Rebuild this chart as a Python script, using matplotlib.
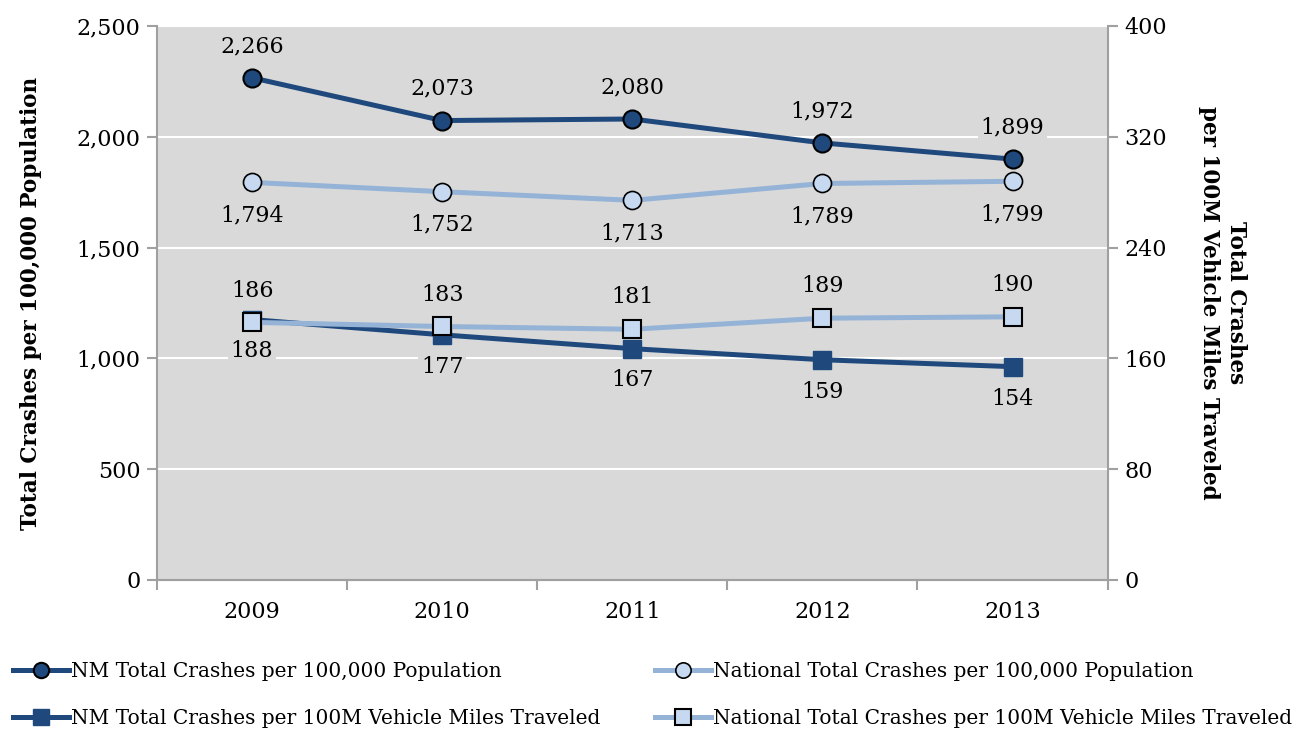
import numpy as np
import matplotlib.pyplot as plt

years = ['2009', '2010', '2011', '2012', '2013']
nm_pop = [2266, 2073, 2080, 1972, 1899]
nat_pop = [1794, 1752, 1713, 1789, 1799]
nm_vmt = [188, 177, 167, 159, 154]
nat_vmt = [186, 183, 181, 189, 190]

dark = '#1F497D'
light = '#95B3D7'
light_face = '#C6D9F1'
bg = '#D9D9D9'
spine = '#A0A0A0'

plt.rcParams['font.family'] = ['DejaVu Serif']

fig = plt.figure(figsize=(13.04, 7.30), dpi=100)
ax = fig.add_axes([0.1204, 0.2055, 0.729, 0.759])
ax2 = ax.twinx()
x = np.arange(len(years))

ax.set_facecolor(bg)
ax.set_xlim(-0.5, 4.5)
ax.set_ylim(0, 2500)
ax.set_yticks(range(0, 2501, 500))
ax.set_yticklabels([f'{v:,}' for v in range(0, 2501, 500)])
ax.grid(axis='y', color='white', lw=1.5, zorder=0)
ax.set_axisbelow(True)
ax2.set_ylim(0, 400)
ax2.set_yticks(range(0, 401, 80))

for a in (ax, ax2):
    for s in a.spines.values():
        s.set_color(spine)
        s.set_linewidth(1.5)
    a.spines['top'].set_visible(False)
    a.tick_params(axis='y', colors=spine, labelcolor='black', labelsize=16, length=7, width=1.5, pad=5)
ax.spines['right'].set_visible(False)
ax2.spines['left'].set_visible(False)

ax.set_xticks(x)
ax.set_xticklabels(years)
ax.set_xticks(np.arange(-0.5, 5, 1), minor=True)
ax.tick_params(axis='x', which='major', length=0, labelsize=16, pad=15)
ax.tick_params(axis='x', which='minor', length=7, width=1.5, colors=spine)

l1, = ax.plot(x, nm_pop, color=dark, lw=3.6, marker='o', ms=13, mfc=dark, mec='black', mew=1.5, zorder=4)
l2, = ax.plot(x, nat_pop, color=light, lw=3.6, marker='o', ms=13, mfc=light_face, mec='black', mew=1.2, zorder=3)
l3, = ax2.plot(x, nm_vmt, color=dark, lw=3.6, marker='s', ms=13, mfc=dark, mec=dark, zorder=3)
l4, = ax2.plot(x, nat_vmt, color=light, lw=3.6, marker='s', ms=13, mfc=light_face, mec='black', mew=1.5, zorder=4)

box = dict(facecolor=bg, edgecolor='none', pad=2)
for i in x:
    ax.annotate(f'{nm_pop[i]:,}', (i, nm_pop[i]), xytext=(0, 15), textcoords='offset points',
                ha='center', va='bottom', fontsize=16, bbox=box)
    ax.annotate(f'{nat_pop[i]:,}', (i, nat_pop[i]), xytext=(0, -16), textcoords='offset points',
                ha='center', va='top', fontsize=16, bbox=box)
    ax2.annotate(f'{nat_vmt[i]}', (i, nat_vmt[i]), xytext=(0, 15), textcoords='offset points',
                 ha='center', va='bottom', fontsize=16, bbox=box)
    ax2.annotate(f'{nm_vmt[i]}', (i, nm_vmt[i]), xytext=(0, -15), textcoords='offset points',
                 ha='center', va='top', fontsize=16, bbox=box)

ax.set_ylabel('Total Crashes per 100,000 Population', fontsize=15.5, fontweight='bold', labelpad=25)
ax2.set_ylabel('Total Crashes\nper 100M Vehicle Miles Traveled', fontsize=15.5, fontweight='bold',
               rotation=270, labelpad=58, linespacing=1.35)

fig.legend([l1, l3, l2, l4],
           ['NM Total Crashes per 100,000 Population',
            'NM Total Crashes per 100M Vehicle Miles Traveled',
            'National Total Crashes per 100,000 Population',
            'National Total Crashes per 100M Vehicle Miles Traveled'],
           ncol=2, loc='lower left', bbox_to_anchor=(-0.004, -0.022), frameon=False,
           fontsize=14.5, handlelength=2.8, handletextpad=0.1, columnspacing=2.7,
           labelspacing=1.4, numpoints=1, markerscale=0.85)

fig.savefig('out.png', dpi=100)
